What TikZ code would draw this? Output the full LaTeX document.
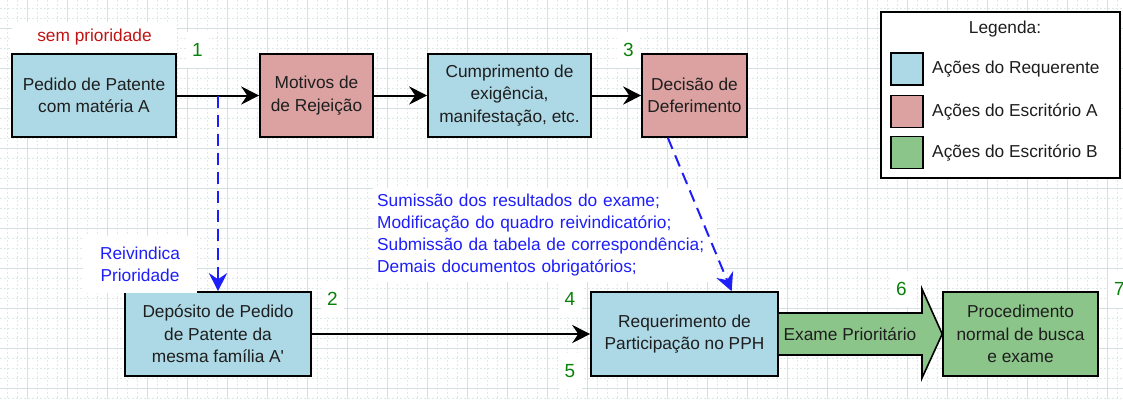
\documentclass[tikz,border=0pt]{standalone}
\usepackage{fontspec}
\setmainfont{Liberation Sans}
\usetikzlibrary{arrows.meta,calc}
\definecolor{reqblue}{RGB}{173,216,230}
\definecolor{escA}{RGB}{219,162,161}
\definecolor{escB}{RGB}{140,197,137}
\definecolor{semred}{RGB}{192,20,20}
\definecolor{numgreen}{RGB}{10,130,10}
\definecolor{noteblue}{RGB}{30,30,250}
\definecolor{txtdark}{RGB}{30,30,30}
\definecolor{gridminor}{RGB}{222,234,234}
\definecolor{gridmajor}{RGB}{210,226,226}
\tikzset{
  basefont/.style={font=\fontsize{17.3}{22.5}\selectfont},
  procbox/.style={basefont, draw=black, line width=1.6pt, align=center, text=txtdark,
    inner sep=0pt, minimum height=83pt},
  numlabel/.style={font=\fontsize{19}{22}\selectfont, text=numgreen, fill=white,
    inner sep=0pt, minimum width=23pt, minimum height=36pt},
  flowarrow/.style={draw=black, line width=2pt,
    -{Stealth[length=18pt,width=18pt,inset=6pt]}},
  dasharrow/.style={draw=noteblue, line width=2pt, dash pattern=on 12pt off 7pt,
    -{Stealth[length=18pt,width=18pt,inset=6pt]}},
  swatch/.style={draw=black, line width=1.6pt, minimum width=32pt, minimum height=32pt, inner sep=0pt},
  legtext/.style={basefont, text=txtdark, anchor=west, inner sep=0pt},
}
\begin{document}
\begin{tikzpicture}[x=1pt,y=-1pt]
\useasboundingbox (0,0) rectangle (1123,399);
% background grid
\fill[white] (0,0) rectangle (1123,399);
\foreach \x in {7,17,...,1123} \draw[gridminor, line width=0.8pt, dash pattern=on 2pt off 2pt] (\x,0) -- (\x,399);
\foreach \y in {8,18,...,399} \draw[gridminor, line width=0.8pt, dash pattern=on 2pt off 2pt] (0,\y) -- (1123,\y);
\foreach \x in {27,67,...,1123} \draw[gridmajor, line width=0.8pt] (\x,0) -- (\x,399);
\foreach \y in {28,68,...,399} \draw[gridmajor, line width=0.8pt] (0,\y) -- (1123,\y);

% top row
\node[procbox, fill=reqblue, minimum width=164pt] (pedido) at (94,95.5) {Pedido de Patente\\com matéria A};
\node[procbox, fill=escA, minimum width=113pt] (motivos) at (316.5,95.5) {Motivos de\\de Rejeição};
\node[procbox, fill=reqblue, minimum width=163pt] (cumpr) at (509.5,95.5) {Cumprimento de\\exigência,\\manifestação, etc.};
\node[procbox, fill=escA, minimum width=105pt] (decisao) at (694.5,95.5) {Decisão de\\Deferimento};

% bottom row
\node[procbox, fill=reqblue, minimum width=186pt, minimum height=84pt] (deposito) at (218,334) {Depósito de Pedido\\de Patente da\\mesma família A\textquotesingle};
\node[procbox, fill=reqblue, minimum width=187pt, minimum height=84pt] (pph) at (684.5,334) {Requerimento de\\Participação no PPH};
\node[procbox, fill=escB, minimum width=155pt, minimum height=84pt] (normal) at (1020.5,334) {Procedimento\\normal de busca\\e exame};

% big arrow
\draw[fill=escB, line width=1.6pt, line join=miter] (pph.east |- 0,313) -- (922,313) -- (922,289) -- (normal.west) -- (922,378) -- (922,355) -- (pph.east |- 0,355);
\node[basefont, text=txtdark, inner sep=0pt] (exame) at (850,334) {Exame Prioritário};

% labels
\node[basefont, text=semred, fill=white, inner sep=0pt, minimum width=165pt, minimum height=30pt] (sem) at (94.5,37) {sem prioridade};
\node[numlabel] (n1) at (197.5,50) {1};
\node[numlabel] (n3) at (628.5,50) {3};
\node[numlabel] (n2) at (332.5,299) {2};
\node[numlabel] (n4) at (570,299) {4};
\node[numlabel] (n5) at (570,371) {5};
\node[numlabel] (n6) at (901.5,289) {6};
\node[numlabel] (n7) at (1119.5,289) {7};
\node[font=\fontsize{17.3}{22}\selectfont, text=noteblue, fill=white, align=center, inner sep=0pt,
  minimum width=114pt, minimum height=57pt] (reiv) at (140,264) {Reivindica\\Prioridade};
\node[font=\fontsize{17.3}{21.7}\selectfont, text=noteblue, fill=white, align=left, inner xsep=4pt, inner ysep=0pt,
  text width=336pt, minimum height=94pt, anchor=west] (docs) at (373,235)
  {Sumissão dos resultados do exame;\\Modificação do quadro reivindicatório;\\Submissão da tabela de correspondência;\\Demais documentos obrigatórios;};

% connectors
\draw[flowarrow] (pedido) -- (motivos);
\draw[flowarrow] (motivos) -- (cumpr);
\draw[flowarrow] (cumpr) -- (decisao);
\draw[flowarrow] (deposito) -- (pph);
\coordinate (split) at (218,95.5);
\draw[dasharrow] (split) -- (deposito.north);
\draw[dasharrow] ($(decisao.south west)!0.25!(decisao.south east)$) -- ($(pph.north west)!0.75!(pph.north east)$);

% legend
\node[draw=black, line width=1.4pt, fill=white, minimum width=239pt, minimum height=166pt, inner sep=0pt] (legend) at (1000.5,95) {};
\node[basefont, text=txtdark, inner sep=0pt] (legtitle) at (1005,29) {Legenda:};
\node[swatch, fill=reqblue] (sw1) at (907,69) {};
\node[swatch, fill=escA] (sw2) at (907,111.5) {};
\node[swatch, fill=escB] (sw3) at (907,152.5) {};
\node[legtext] (lt1) at (932,69) {Ações do Requerente};
\node[legtext] (lt2) at (932,111.5) {Ações do Escritório A};
\node[legtext] (lt3) at (932,152.5) {Ações do Escritório B};
\end{tikzpicture}
\end{document}
